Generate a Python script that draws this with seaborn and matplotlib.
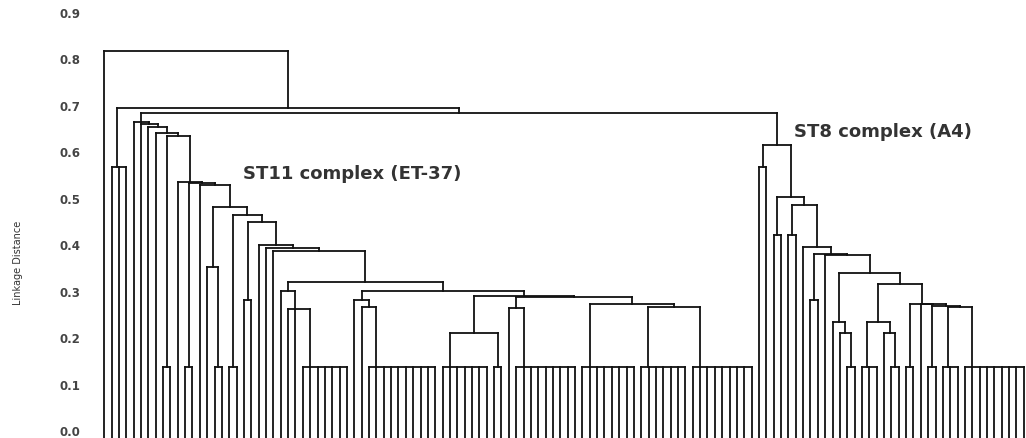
import matplotlib
matplotlib.use("Agg")
import matplotlib.pyplot as plt
from matplotlib.transforms import ScaledTranslation
import pandas as pd
import seaborn as sns

sns.set_style("white")
plt.rcParams["font.family"] = ["DejaVu Sans"]

L = "leaf"          # one isolate
comb_h = 0.143      # isolates that are identical join here


def tie(h, n):
    # n members joined at the same distance -> flat comb
    return (h,) + (L,) * n


# ---- ST11 complex (ET-37) ----
st11_u = (0.267, L, L, tie(comb_h, 7))
st11_s = (0.305, L, st11_u)
st11_x = (0.271, L, tie(comb_h, 10))
st11_v = (0.287, L, st11_x)
st11_y = (0.215, tie(comb_h, 7), tie(comb_h, 2))
st11_cc = (0.269, L, tie(comb_h, 9))
st11_bb = (0.271, tie(comb_h, 7), tie(comb_h, 9))
st11_aa = (0.278, tie(comb_h, 8), st11_bb)
st11_dd = (0.294, st11_cc, st11_aa)
st11_w = (0.296, st11_y, st11_dd)
st11_t = (0.305, st11_v, st11_w)
st11_r = (0.326, st11_s, st11_t)
st11_p = (0.391, L, st11_r)
st11_o = (0.398, L, st11_p)
st11_n = (0.405, L, st11_o)
st11_l = (0.455, tie(0.287, 2), st11_n)
st11_j = (0.469, tie(comb_h, 2), st11_l)
st11_i = (0.358, L, tie(comb_h, 2))
st11_h = (0.487, st11_i, st11_j)
st11_g = (0.534, L, st11_h)
st11_f2 = (0.539, tie(comb_h, 2), st11_g)
st11_f = (0.541, L, st11_f2)
st11_e = (0.640, tie(comb_h, 2), st11_f)
st11 = (0.670, L, (0.665, L, (0.658, L, (0.645, L, st11_e))))

# ---- ST8 complex (A4) ----
st8_q4 = (0.271, tie(comb_h, 3), tie(comb_h, 9))
st8_q = (0.278, tie(comb_h, 2), (0.277, L, (0.274, tie(comb_h, 2), st8_q4)))
st8_r = (0.215, L, tie(comb_h, 2))
st8_p = (0.240, tie(comb_h, 3), st8_r)
st8_n = (0.321, st8_p, st8_q)
st8_m = (0.240, L, (0.215, L, tie(comb_h, 2)))
st8_l = (0.344, st8_m, st8_n)
st8_h = (0.386, tie(0.287, 2), (0.383, L, st8_l))
st8_d = (0.491, tie(0.427, 2), (0.401, L, st8_h))
st8 = (0.620, tie(0.573, 2), (0.509, tie(0.427, 2), st8_d))

root = (0.823, L, (0.699, tie(0.573, 3), (0.688, st11, st8)))

y_ticks = [0.0, 0.1, 0.2, 0.3, 0.4, 0.5, 0.6, 0.7, 0.8, 0.9]
leaf_base = -0.02

rows = []


def place(node, counter):
    if node == L:
        x = counter[0]
        counter[0] += 1
        return x, leaf_base
    h, *kids = node
    pos = [place(k, counter) for k in kids]
    for x, top in pos:
        sid = len(rows) // 2
        rows.extend([(sid, x, top), (sid, x, h)])
    sid = len(rows) // 2
    rows.extend([(sid, pos[0][0], h), (sid, pos[-1][0], h)])
    # ties are merged one after another, so the link sits near the left
    x = pos[-1][0]
    for px, _ in reversed(pos[:-1]):
        x = (px + x) / 2
    return x, h


n_leaves = [0]
place(root, n_leaves)
df = pd.DataFrame(rows, columns=["seg", "x", "y"])

fig = plt.figure(figsize=(10.26, 4.38), dpi=100)
ax = fig.add_axes([90 / 1026, 0, 936 / 1026, 1])
sns.lineplot(data=df, x="x", y="y", units="seg", estimator=None, sort=False,
             color="#111111", lw=1.3, legend=False, ax=ax,
             solid_capstyle="projecting")

ax.set_xlim(-1.93, 125.3)
ax.set_ylim(-0.0101, 0.9318)
ax.set_xticks([])
ax.set_yticks(y_ticks)
ax.set_yticklabels([f"{t:.1f}" for t in y_ticks], fontsize=8.5,
                   fontweight="bold", color="#444444")
ax.tick_params(axis="y", length=0, pad=7)
nudge = ScaledTranslation(0, 1.5 / 72, fig.dpi_scale_trans)
for lab in ax.get_yticklabels():
    lab.set_transform(lab.get_transform() + nudge)
ax.set_xlabel("")
ax.set_ylabel("Linkage Distance", fontsize=7, color="#333333")
ax.yaxis.set_label_coords(-0.0716, 0.40)
sns.despine(ax=ax, left=True, bottom=True)

ax.text(18.9, 0.558, "ST11 complex (ET-37)", fontsize=13, fontweight="bold",
        va="center", ha="left", color="#333333")
ax.text(93.8, 0.649, "ST8 complex (A4)", fontsize=13, fontweight="bold",
        va="center", ha="left", color="#333333")

fig.savefig("out.png", dpi=100)
